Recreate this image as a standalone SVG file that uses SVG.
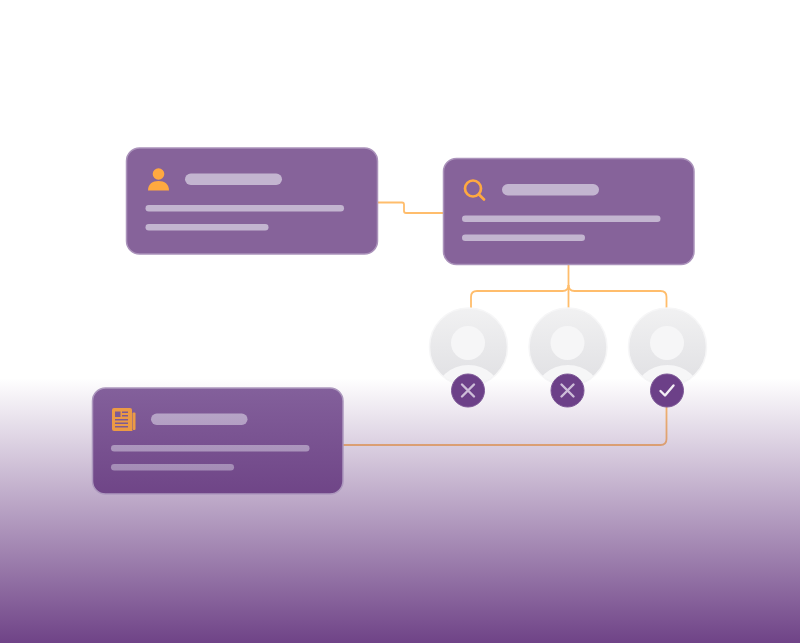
<svg xmlns="http://www.w3.org/2000/svg" width="800" height="643" viewBox="0 0 800 643">
<style>
.card{fill:#86639a;stroke:#ab93bb;stroke-width:1.5}
.bar{fill:#c3b5d0}
.ic{fill:#ffa940}
.conn{fill:none;stroke:#ffbd6c;stroke-width:1.8}
.av{fill:url(#avg);stroke:#f6f6f7;stroke-width:1.5}
.hd{fill:#f6f6f7}
.bd{fill:#6c4088;stroke:#7f5a98;stroke-width:1}
.mk{fill:none;stroke:#cdbdd8;stroke-width:2.4;stroke-linecap:round;stroke-linejoin:round}
</style>
<defs>
<linearGradient id="ov" x1="0" y1="378" x2="0" y2="643" gradientUnits="userSpaceOnUse">
<stop offset="0" stop-color="#6f4387" stop-opacity="0"/>
<stop offset="1" stop-color="#6f4387" stop-opacity="1"/>
</linearGradient>
<linearGradient id="avg" x1="0" y1="0" x2="0" y2="1">
<stop offset="0" stop-color="#f1f1f2"/>
<stop offset="1" stop-color="#e0e0e3"/>
</linearGradient>
<linearGradient id="cg" x1="0" y1="388" x2="0" y2="494" gradientUnits="userSpaceOnUse">
<stop offset="0" stop-color="#83609b"/>
<stop offset="1" stop-color="#6f4587"/>
</linearGradient>
<linearGradient id="bg" x1="0" y1="410" x2="0" y2="472" gradientUnits="userSpaceOnUse">
<stop offset="0" stop-color="#b8a6c8"/>
<stop offset="1" stop-color="#a38bb5"/>
</linearGradient>
<clipPath id="c1"><circle cx="468.5" cy="347" r="38.5"/></clipPath>
<clipPath id="c2"><circle cx="568" cy="347" r="38.5"/></clipPath>
<clipPath id="c3"><circle cx="667.5" cy="347" r="38.5"/></clipPath>
</defs>
<rect width="800" height="643" fill="#fff"/>
<g id="connectors">
<path class="conn" d="M378 202.500H402q2 0 2 2V211q0 2 2 2H443"/>
<path class="conn" d="M568.500 265V308"/>
<path class="conn" d="M568.500 285Q568.500 291 562.500 291H477q-6 0-6 6V308"/>
<path class="conn" d="M568.500 285Q568.500 291 574.500 291H660.500q6 0 6 6V308"/>
<path class="conn" d="M343 445H660.500q6 0 6-6V405"/>
</g>
<g id="card-user">
<rect class="card" x="126.500" y="148" width="251" height="106" rx="13"/>
<circle class="ic" cx="158.500" cy="174" r="5.800"/>
<path class="ic" d="M148 190.500c0-6.500 4.500-9.500 10.500-9.500s10.500 3 10.500 9.500z"/>
<rect class="bar" x="185" y="173.500" width="97" height="11.500" rx="5.750"/>
<rect class="bar" x="145.500" y="205" width="198.500" height="6.500" rx="3.250"/>
<rect class="bar" x="145.500" y="224" width="123" height="6.500" rx="3.250"/>
</g>
<g id="card-search">
<rect class="card" x="443.500" y="158.500" width="250.500" height="106" rx="13"/>
<circle cx="473" cy="188.500" r="8" fill="none" stroke="#ffa940" stroke-width="2.700"/>
<path d="M479 194.500L484 199.500" fill="none" stroke="#ffa940" stroke-width="2.700" stroke-linecap="round"/>
<rect class="bar" x="502" y="184" width="97" height="11.500" rx="5.750"/>
<rect class="bar" x="462" y="215.500" width="198.500" height="6.500" rx="3.250"/>
<rect class="bar" x="462" y="234.500" width="123" height="6.500" rx="3.250"/>
</g>
<g id="avatar-1">
<circle class="av" cx="468.500" cy="347" r="39"/>
<circle class="hd" cx="468" cy="343" r="17"/>
<ellipse class="hd" cx="468.500" cy="395" rx="33" ry="30" clip-path="url(#c1)"/>
</g>
<g id="avatar-2">
<circle class="av" cx="568" cy="347" r="39"/>
<circle class="hd" cx="567.500" cy="343" r="17"/>
<ellipse class="hd" cx="568" cy="395" rx="33" ry="30" clip-path="url(#c2)"/>
</g>
<g id="avatar-3">
<circle class="av" cx="667.500" cy="347" r="39"/>
<circle class="hd" cx="667" cy="343" r="17"/>
<ellipse class="hd" cx="667.500" cy="395" rx="33" ry="30" clip-path="url(#c3)"/>
</g>
<rect id="fade" x="0" y="378" width="800" height="265" fill="url(#ov)"/>
<g id="card-news">
<rect x="92.500" y="388" width="250.500" height="106" rx="13" fill="url(#cg)" stroke="#ad98be" stroke-width="1.500"/>
<path fill="#ec9a45" d="M114 408h16a2 2 0 0 1 2 2v19.500q0 1.500 1.500 1.500H114a2 2 0 0 1-2-2v-19a2 2 0 0 1 2-2z"/>
<rect x="132.500" y="412.500" width="3" height="17.500" rx="1" fill="#ec9a45"/>
<g fill="#7d5a96">
<rect x="115" y="411.500" width="5.500" height="5.500"/>
<rect x="122" y="411.500" width="6" height="1.500"/>
<rect x="122" y="415" width="6" height="1.500"/>
<rect x="115" y="419" width="13" height="1.500"/>
<rect x="115" y="422.500" width="13" height="1.500"/>
<rect x="115" y="426" width="13" height="1.500"/>
</g>
<rect fill="url(#bg)" x="151" y="413.500" width="96.500" height="11.500" rx="5.750"/>
<rect fill="url(#bg)" x="111" y="445" width="198.500" height="6.500" rx="3.250"/>
<rect fill="url(#bg)" x="111" y="464" width="123" height="6.500" rx="3.250"/>
</g>
<g id="badge-1">
<circle class="bd" cx="468" cy="390.500" r="16.500"/>
<path class="mk" d="M462 384.500l12 12M474 384.500l-12 12"/>
</g>
<g id="badge-2">
<circle class="bd" cx="567.500" cy="390.500" r="16.500"/>
<path class="mk" d="M561.500 384.500l12 12M573.500 384.500l-12 12"/>
</g>
<g id="badge-3">
<circle class="bd" cx="667" cy="390.500" r="16.500"/>
<path class="mk" style="stroke:#f3eef6" d="M660.500 391l4.500 4.500L673.500 385.500"/>
</g>
</svg>
